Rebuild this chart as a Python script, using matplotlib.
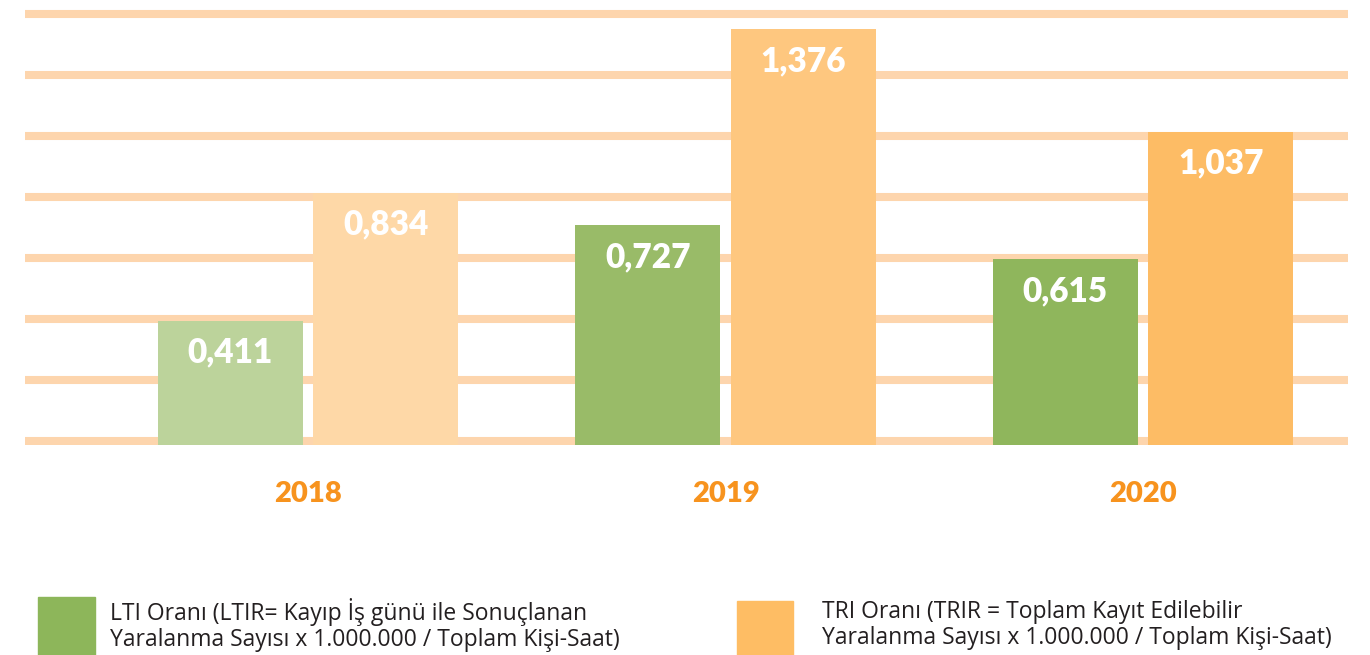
import numpy as np
import matplotlib.pyplot as plt

# LTIR / TRIR values per year
years = ["2018", "2019", "2020"]
lti_values = [0.411, 0.727, 0.615]
tri_values = [0.834, 1.376, 1.037]
lti_labels = ["0,411", "0,727", "0,615"]
tri_labels = ["0,834", "1,376", "1,037"]
legend_labels = [
    "LTI Oranı (LTIR= Kayıp İş günü ile Sonuçlanan\nYaralanma Sayısı x 1.000.000 / Toplam Kişi-Saat)",
    "TRI Oranı (TRIR = Toplam Kayıt Edilebilir\nYaralanma Sayısı x 1.000.000 / Toplam Kişi-Saat)",
]

# each year gets its own shade, lighter for the older year
lti_colors = ["#BCD39B", "#99BB68", "#8FB65C"]
tri_colors = ["#FED8A7", "#FEC77F", "#FDBC65"]
grid_color = "#FDD5AD"
year_color = "#F7931E"

W, H = 1370, 655
fig = plt.figure(figsize=(W / 100, H / 100), dpi=100)
ax = fig.add_axes([25 / W, (H - 445) / H, (1348 - 25) / W, 445 / H])

x = np.arange(len(years))
bar_w = 0.347
off = 0.186

ax.set_xlim(-0.678, 2.491)
ax.set_ylim(0, 1.472)

# decorative horizontal bands behind the bars
for k in range(8):
    ax.axhline(0.0132 + k * 0.2018, color=grid_color, linewidth=5.8, zorder=0)

b1 = ax.bar(x - off, lti_values, width=bar_w, color=lti_colors, zorder=2)
b2 = ax.bar(x + off, tri_values, width=bar_w, color=tri_colors, zorder=2)

for bars, labels in ((b1, lti_labels), (b2, tri_labels)):
    for rect, lab in zip(bars, labels):
        ax.annotate(lab, (rect.get_x() + rect.get_width() / 2, rect.get_height()),
                    xytext=(0, -23), textcoords="offset points",
                    ha="center", va="center", color="white",
                    fontsize=24, fontweight="heavy", family="Lato", zorder=3)

for xi, yr in zip(x, years):
    ax.text(xi, -49 / 302.3, yr, ha="center", va="center", color=year_color,
            fontsize=21, fontweight="heavy", family="Lato", clip_on=False)

ax.axis("off")

# legend swatches and their captions
fig.patches.append(plt.Rectangle((38 / W, 0), 57 / W, 58 / H, color="#8DB65A",
                                 transform=fig.transFigure, figure=fig))
fig.patches.append(plt.Rectangle((737 / W, 0), 56 / W, 54 / H, color="#FEBD64",
                                 transform=fig.transFigure, figure=fig))
fig.text(110 / W, 1 - 625 / H, legend_labels[0], ha="left", va="center",
         fontsize=16.5, color="#231F20", family="Open Sans", linespacing=1.15)
fig.text(822 / W, 1 - 625 / H, legend_labels[1], ha="left", va="center",
         fontsize=16.5, color="#231F20", family="Open Sans", linespacing=1.15)

fig.savefig("out.png", dpi=100, facecolor="white")
